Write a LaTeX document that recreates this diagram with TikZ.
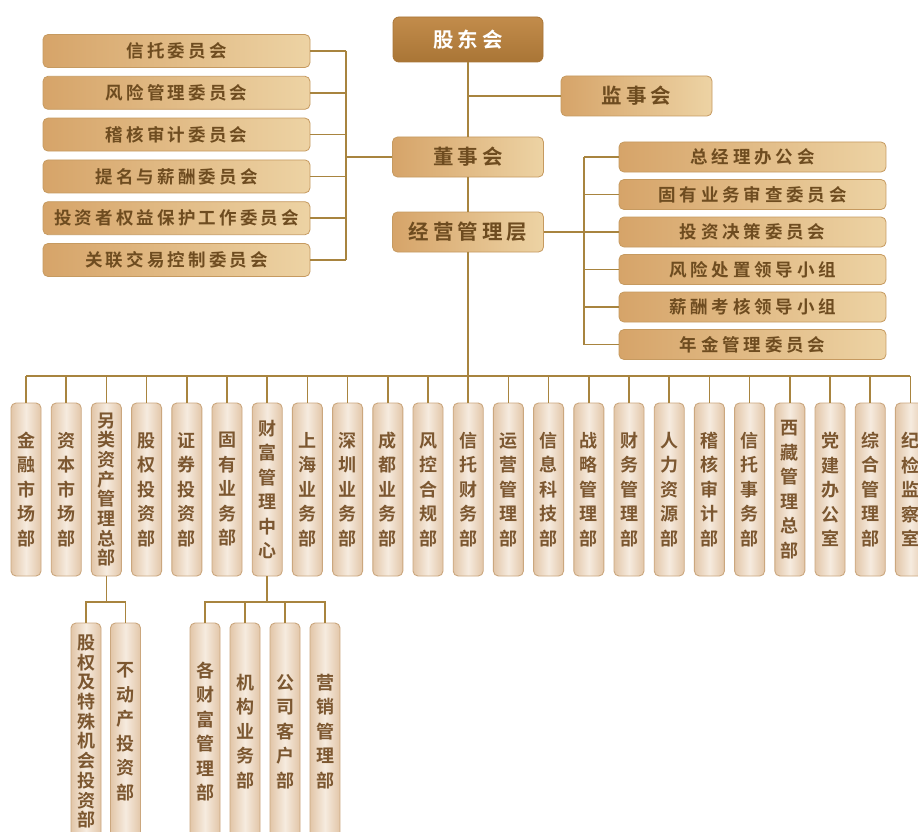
\documentclass[tikz,border=0pt]{standalone}
\usepackage{fontspec}
\newfontfamily\fH{Noto Sans CJK SC Bold}[LetterSpace=19]
\newfontfamily\fL{Noto Sans CJK SC Bold}[LetterSpace=18]
\newfontfamily\fR{Noto Sans CJK SC Bold}[LetterSpace=22]
\newfontfamily\fV{Noto Sans CJK SC Bold}
\definecolor{ln}{HTML}{A8843F}
\definecolor{bd}{HTML}{C69A60}
\definecolor{ca}{HTML}{D6A469}
\definecolor{cb}{HTML}{EDD3A4}
\definecolor{tx}{HTML}{6E4C20}
\definecolor{vt}{HTML}{7C5730}
\definecolor{va}{HTML}{E2C6A8}
\definecolor{vb}{HTML}{F6EBDF}
\definecolor{vbd}{HTML}{CBA77E}
\definecolor{ga}{HTML}{C28C4B}
\definecolor{gb}{HTML}{A97536}
\tikzset{
  ln/.style={draw=ln, line width=1.5pt},
  hb/.style={draw=bd, line width=0.8pt, rounded corners=5pt, left color=ca, right color=cb,
    text=tx, inner sep=0pt, minimum width=267pt, minimum height=33pt},
  lbox/.style={hb, font=\fontsize{17.5}{19}\fL},
  rbox/.style={hb, font=\fontsize{17.5}{19}\fR, minimum height=30pt},
  topbox/.style={hb, font=\fontsize{20.5}{22}\fH, minimum width=151pt, minimum height=40pt},
  gdbox/.style={draw=gb, line width=0.8pt, rounded corners=6pt, top color=ga, bottom color=gb,
    text=white, inner sep=0pt, minimum width=150pt, minimum height=45pt, font=\fontsize{20.5}{22}\fH},
  vbox/.style={draw=vbd, line width=0.9pt, rounded corners=5pt, left color=va, right color=va,
    middle color=vb, text=vt, inner sep=0pt, minimum width=30pt, minimum height=173pt,
    align=center, font=\fontsize{18}{24.5}\fV},
  vtight/.style={font=\fontsize{18}{19.7}\fV},
  sbox/.style={vbox, minimum height=217pt},
}
\begin{document}
\begin{tikzpicture}[x=1pt,y=-1pt]
\useasboundingbox (0,0) rectangle (918,832);
\clip (0,0) rectangle (918,832);
\fill[white] (0,0) rectangle (918,832);
% top
\node[gdbox] (gd) at (468,39.5) {股东会};
\node[topbox] (js) at (636.5,96) {监事会};
\node[topbox] (ds) at (468,157) {董事会};
\node[topbox] (ml) at (468,232) {经营管理层};
% left committees
\node[lbox] (l1) at (176.5,51) {信托委员会};
\node[lbox] (l2) at (176.5,92.8) {风险管理委员会};
\node[lbox] (l3) at (176.5,134.6) {稽核审计委员会};
\node[lbox] (l4) at (176.5,176.4) {提名与薪酬委员会};
\node[lbox] (l5) at (176.5,218.2) {投资者权益保护工作委员会};
\node[lbox] (l6) at (176.5,260) {关联交易控制委员会};
% right committees
\node[rbox] (r1) at (752.5,157) {总经理办公会};
\node[rbox] (r2) at (752.5,194.5) {固有业务审查委员会};
\node[rbox] (r3) at (752.5,232) {投资决策委员会};
\node[rbox] (r4) at (752.5,269.5) {风险处置领导小组};
\node[rbox] (r5) at (752.5,307) {薪酬考核领导小组};
\node[rbox] (r6) at (752.5,344.5) {年金管理委员会};
% departments
\node[vbox] (d0) at (26,489.5) {金\\融\\市\\场\\部};
\node[vbox] (d1) at (66.2,489.5) {资\\本\\市\\场\\部};
\node[vbox,vtight] (d2) at (106.4,489.5) {另\\类\\资\\产\\管\\理\\总\\部};
\node[vbox] (d3) at (146.6,489.5) {股\\权\\投\\资\\部};
\node[vbox] (d4) at (186.8,489.5) {证\\券\\投\\资\\部};
\node[vbox] (d5) at (227,489.5) {固\\有\\业\\务\\部};
\node[vbox] (d6) at (267.2,489.5) {财\\富\\管\\理\\中\\心};
\node[vbox] (d7) at (307.4,489.5) {上\\海\\业\\务\\部};
\node[vbox] (d8) at (347.6,489.5) {深\\圳\\业\\务\\部};
\node[vbox] (d9) at (387.8,489.5) {成\\都\\业\\务\\部};
\node[vbox] (d10) at (428,489.5) {风\\控\\合\\规\\部};
\node[vbox] (d11) at (468.2,489.5) {信\\托\\财\\务\\部};
\node[vbox] (d12) at (508.4,489.5) {运\\营\\管\\理\\部};
\node[vbox] (d13) at (548.6,489.5) {信\\息\\科\\技\\部};
\node[vbox] (d14) at (588.8,489.5) {战\\略\\管\\理\\部};
\node[vbox] (d15) at (629,489.5) {财\\务\\管\\理\\部};
\node[vbox] (d16) at (669.2,489.5) {人\\力\\资\\源\\部};
\node[vbox] (d17) at (709.4,489.5) {稽\\核\\审\\计\\部};
\node[vbox] (d18) at (749.6,489.5) {信\\托\\事\\务\\部};
\node[vbox] (d19) at (789.8,489.5) {西\\藏\\管\\理\\总\\部};
\node[vbox] (d20) at (830,489.5) {党\\建\\办\\公\\室};
\node[vbox] (d21) at (870.2,489.5) {综\\合\\管\\理\\部};
\node[vbox] (d22) at (910.4,489.5) {纪\\检\\监\\察\\室};
% sub departments
\node[sbox,vtight] (s1) at (86,731.5) {股\\权\\及\\特\\殊\\机\\会\\投\\资\\部};
\node[sbox] (s2) at (125.5,731.5) {不\\动\\产\\投\\资\\部};
\node[sbox] (s3) at (205,731.5) {各\\财\\富\\管\\理\\部};
\node[sbox] (s4) at (245,731.5) {机\\构\\业\\务\\部};
\node[sbox] (s5) at (285,731.5) {公\\司\\客\\户\\部};
\node[sbox] (s6) at (325,731.5) {营\\销\\管\\理\\部};
% connectors top
\draw[ln] (gd.south) -- (ds.north);
\draw[ln] (ds.south) -- (ml.north);
\coordinate (jsj) at (gd.south |- js.west);
\draw[ln] (jsj) -- (js.west);
% left bus
\coordinate (lb1) at (346,51);
\coordinate (lb6) at (346,260);
\draw[ln] (lb1) -- (lb6);
\foreach \k in {1,...,6} \draw[ln] (l\k.east) -- (lb1 |- l\k.east);
\draw[ln] (lb1 |- ds.west) -- (ds.west);
% right bus
\coordinate (rb1) at (584,157);
\coordinate (rb6) at (584,344.5);
\draw[ln] (rb1) -- (rb6);
\foreach \k in {1,2,4,5,6} \draw[ln] (r\k.west) -- (rb1 |- r\k.west);
\draw[ln] (ml.east) -- (r3.west);
% departments bus
\coordinate (busL) at (26,376);
\coordinate (busR) at (910.4,376);
\draw[ln] (busL) -- (busR);
\draw[ln] (ml.south) -- (ml.south |- d11.north);
\foreach \k in {0,...,22} \draw[ln] (d\k.north) -- (d\k.north |- busL);
% sub buses
\coordinate (j2) at (d2.south |- 0,602);
\draw[ln] (d2.south) -- (j2);
\draw[ln] (j2) -| (s1.north);
\draw[ln] (j2) -| (s2.north);
\coordinate (j6) at (d6.south |- 0,602);
\draw[ln] (d6.south) -- (j6);
\draw[ln] (j6) -| (s3.north);
\draw[ln] (j6) -| (s4.north);
\draw[ln] (j6) -| (s5.north);
\draw[ln] (j6) -| (s6.north);
\end{tikzpicture}
\end{document}
